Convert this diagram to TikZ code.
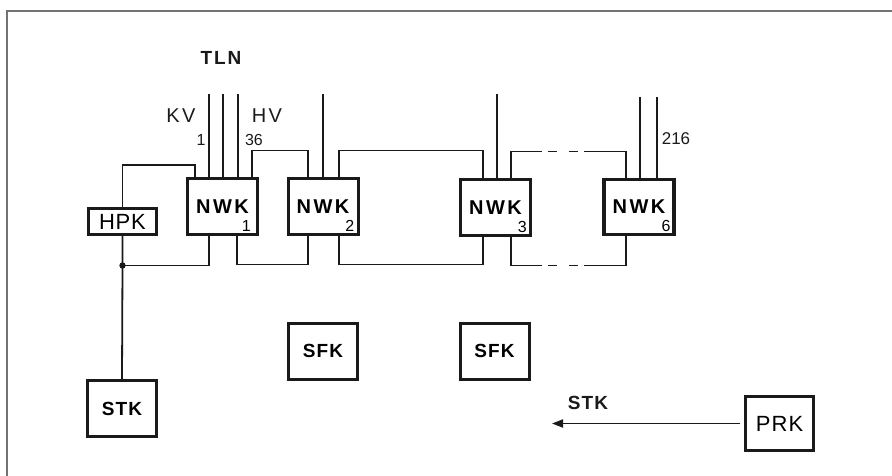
\documentclass[tikz,border=0pt]{standalone}
\usepackage{fontspec}
\setmainfont{Liberation Sans}
\usetikzlibrary{arrows.meta}
\definecolor{ink}{HTML}{1A1A1A}
\begin{document}
\begin{tikzpicture}[x=1pt,y=-1pt,
  wire/.style={draw=ink, line width=1.8pt},
  box/.style={draw=ink, line width=3pt, inner sep=0pt},
  nwk/.style={box, minimum width=70pt, minimum height=55pt,
    font=\fontsize{20}{22}\selectfont\bfseries\addfontfeature{LetterSpace=12}},
  bigbox/.style={box, minimum width=69pt, minimum height=56pt,
    font=\fontsize{19}{21}\selectfont\bfseries\addfontfeature{LetterSpace=6}},
  digit/.style={inner sep=0pt, anchor=south east, font=\fontsize{16}{17}\selectfont},
  lbl/.style={inner sep=0pt, text=ink},
  frame/.style={draw=black!55, line width=1.2pt}]
\useasboundingbox (0,0) rectangle (892,476);
\draw[frame] (7,476) -- (7,11) -- (892,11);

% NWK boxes
\node[nwk] (n1) at (222.5,206.5) {NWK};
\node[nwk] (n2) at (323,206.5) {NWK};
\node[nwk] (n3) at (495.5,207.5) {NWK};
\node[nwk, line width=3.6pt] (n6) at (639,207) {NWK};
\node[digit] (d1) at ([shift={(-8,-4)}]n1.south east) {1};
\node[digit] (d2) at ([shift={(-5,-4)}]n2.south east) {2};
\node[digit] (d3) at ([shift={(-5,-4)}]n3.south east) {3};
\node[digit] (d6) at ([shift={(-5,-4)}]n6.south east) {6};

% other boxes
\node[box, minimum width=68pt, minimum height=26pt,
  font=\fontsize{22}{23}\selectfont\addfontfeature{LetterSpace=3}] (hpk) at (122.5,221.5) {HPK};
\node[bigbox] (stk) at (122,408.5) {STK};
\node[bigbox] (sfk1) at (323,351) {SFK};
\node[bigbox] (sfk2) at (494.5,351) {SFK};
\node[box, minimum width=68pt, minimum height=54pt,
  font=\fontsize{22}{23}\selectfont\addfontfeature{LetterSpace=5}] (prk) at (779.5,423.5) {PRK};

% labels
\node[lbl, font=\fontsize{19}{21}\selectfont\bfseries\addfontfeature{LetterSpace=10}] (tln) at (221,58) {TLN};
\node[lbl, font=\fontsize{20}{21}\selectfont\addfontfeature{LetterSpace=12}] (kv) at (181,116) {KV};
\node[lbl, font=\fontsize{20}{21}\selectfont\addfontfeature{LetterSpace=12}] (hv) at (267,116) {HV};
\node[lbl, font=\fontsize{16}{17}\selectfont] (l1) at (201,140) {1};
\node[lbl, font=\fontsize{16}{17}\selectfont] (l36) at (254,140) {36};
\node[lbl, font=\fontsize{17}{18}\selectfont] (l216) at (676,139) {216};
\node[lbl, font=\fontsize{19}{21}\selectfont\bfseries\addfontfeature{LetterSpace=6}] (stklbl) at (588,403) {STK};

% feeder lines from above
\draw[wire] ([xshift=-13.5pt]n1.north) -- ++(0,-83);
\draw[wire] ([xshift=0.5pt]n1.north) -- ++(0,-83);
\draw[wire] ([xshift=15.5pt]n1.north) -- ++(0,-83);
\draw[wire] (n2.north) -- ++(0,-83);
\draw[wire] ([xshift=1.5pt]n3.north) -- ++(0,-84);
\draw[wire] ([xshift=1pt]n6.north) -- ++(0,-81);
\draw[wire] ([xshift=18pt]n6.north) -- ++(0,-81);

% HPK connections
\path (hpk.south) ++(0,29.5) coordinate (j);
\draw[wire] (hpk.north) -- ++(0,-42) -| ([xshift=-27.5pt]n1.north);
\draw[wire] (hpk.south) -- (j) -- (stk.north);
\draw[wire] (j) -| ([xshift=-13.5pt]n1.south);
\fill[ink] (j) circle (3.2pt);

% ring connections
\draw[wire] ([xshift=29.5pt]n1.north) -- ++(0,-27) -| ([xshift=-15pt]n2.north);
\draw[wire] ([xshift=14.5pt]n1.south) -- ++(0,29) -| ([xshift=-15pt]n2.south);
\draw[wire] ([xshift=16pt]n2.north) -- ++(0,-27) -| ([xshift=-12.5pt]n3.north);
\draw[wire] ([xshift=16pt]n2.south) -- ++(0,29) -| ([xshift=-12.5pt]n3.south);
\draw[wire, dash pattern=on 58pt off 6pt on 9pt off 12pt on 9pt off 6pt on 200pt]
  ([xshift=15.5pt]n3.north) -- ++(0,-27) -| ([xshift=-13pt]n6.north);
\draw[wire, dash pattern=on 60pt off 6pt on 9pt off 12pt on 9pt off 6pt on 200pt]
  ([xshift=15.5pt]n3.south) -- ++(0,29) -| ([xshift=-13pt]n6.south);

% arrow
\coordinate (aend) at (552,424);
\draw[wire, -{Triangle[length=11pt,width=8pt]}] ([xshift=-4pt]prk.west) -- (prk.west -| aend);
\end{tikzpicture}
\end{document}
